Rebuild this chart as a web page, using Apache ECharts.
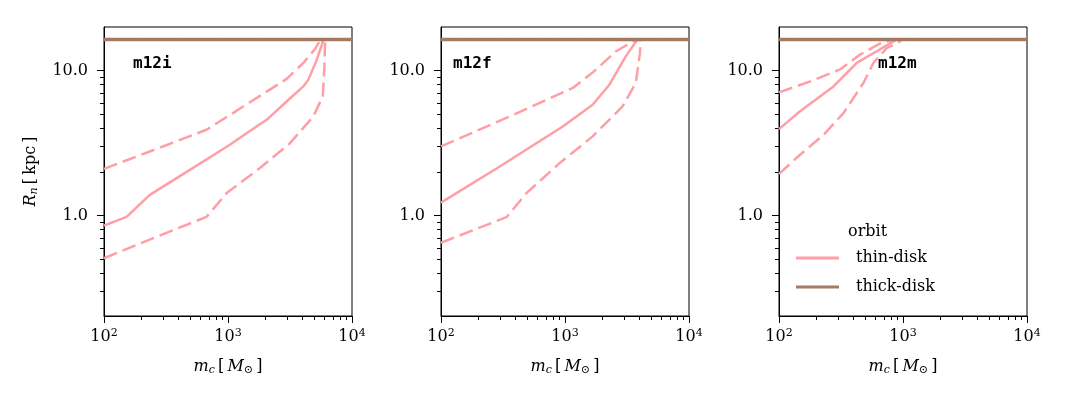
<!DOCTYPE html>
<html>
<head>
<meta charset="utf-8">
<script src="https://cdn.jsdelivr.net/npm/echarts@6/dist/echarts.min.js"></script>
<style>
  html, body { margin: 0; background: #fff; }
  #main { width: 1065px; height: 405px; }
</style>
</head>
<body>
<div id="main"></div>
<script>
// panel names
const panels = ["m12i", "m12f", "m12m"];

// thin-disk median and 16/84 bounds, [m_c, R_n]
const m12iThin = [[100, 0.853], [152, 0.98], [234, 1.39], [400, 1.85], [650, 2.4], [1035, 3.08], [1500, 3.83], [2050, 4.58], [3000, 6.17], [4050, 7.78], [4450, 8.67], [5200, 11.9], [5700, 15.0], [5900, 16.4]];
const m12iThinHi = [[100, 2.1], [234, 2.77], [400, 3.3], [671, 3.91], [1000, 4.85], [1500, 6.05], [2000, 7.07], [2970, 8.77], [4050, 11.3], [5000, 14.0], [5600, 16.4]];
const m12iThinLo = [[100, 0.508], [250, 0.7], [671, 0.98], [975, 1.43], [1810, 2.13], [3160, 3.16], [4880, 4.83], [5810, 6.64], [6000, 11.0], [6070, 16.4]];

const m12fThin = [[100, 1.23], [298, 2.18], [500, 2.89], [960, 4.12], [1670, 5.82], [2280, 8.0], [3100, 12.6], [3840, 16.4]];
const m12fThinHi = [[100, 3.0], [358, 4.83], [1155, 7.6], [1670, 9.7], [2580, 13.6], [3720, 16.3]];
const m12fThinLo = [[100, 0.65], [337, 0.975], [489, 1.43], [903, 2.3], [1670, 3.52], [2910, 5.66], [3720, 8.22], [4020, 13.2], [4070, 16.4]];

const m12mThin = [[100, 3.95], [148, 5.24], [275, 7.78], [424, 11.3], [614, 13.6], [836, 15.9], [900, 16.4]];
const m12mThinHi = [[100, 7.08], [179, 8.44], [311, 10.2], [451, 12.9], [653, 15.4], [836, 16.4]];
const m12mThinLo = [[100, 1.94], [148, 2.63], [229, 3.61], [331, 5.1], [480, 8.22], [577, 11.3], [738, 14.3], [944, 15.9], [960, 16.4]];

// thick-disk stays at the outer edge in every run
const thickDisk = [[100, 16.4], [10000, 16.4]];

const thin = [m12iThin, m12fThin, m12mThin];
const thinHi = [m12iThinHi, m12fThinHi, m12mThinHi];
const thinLo = [m12iThinLo, m12fThinLo, m12mThinLo];

// ticks
const xMajor = [100, 1000, 10000];
const xMinor = [200, 300, 400, 500, 600, 700, 800, 900, 2000, 3000, 4000, 5000, 6000, 7000, 8000, 9000];
const yMajor = [1, 10];
const yMinor = [0.3, 0.4, 0.5, 0.6, 0.7, 0.8, 0.9, 2, 3, 4, 5, 6, 7, 8, 9];

const PINK = "#ff9ea6";
const BROWN = "#a47a63";
const SERIF = "DejaVu Serif";
const lefts = [104, 441, 779];

const richMath = {
  t: { fontFamily: SERIF, fontSize: 16, color: "#000", lineHeight: 18 },
  i: { fontFamily: SERIF, fontSize: 16, fontStyle: "italic", color: "#000", lineHeight: 18 },
  s: { fontFamily: SERIF, fontSize: 11, fontStyle: "italic", color: "#000", lineHeight: 6, verticalAlign: "bottom" },
  sup: { fontFamily: SERIF, fontSize: 11, color: "#000", lineHeight: 8, verticalAlign: "top" },
};

const grid = [], xAxis = [], yAxis = [], series = [], title = [];

panels.forEach((name, i) => {
  grid.push({ left: lefts[i], top: 27, width: 248, height: 289, show: true, borderColor: "#000", borderWidth: 1 });

  xAxis.push({
    type: "log", logBase: 10, gridIndex: i, position: "bottom", min: 100, max: 10000,
    axisLine: { lineStyle: { color: "#000", width: 1 } },
    axisTick: { customValues: xMajor, length: 7, lineStyle: { color: "#000" } },
    axisLabel: {
      customValues: xMajor, margin: 12, rich: richMath,
      formatter: (v) => "{t|10}{sup|" + Math.round(Math.log10(v)) + "}",
    },
    splitLine: { show: false },
    name: "{i|m}{s|c}{t|\u2009[\u2009}{i|M}{s|\u2299}{t|\u2009]}",
    nameLocation: "middle", nameGap: 42,
    nameTextStyle: { rich: richMath },
  });
  xAxis.push({
    type: "log", logBase: 10, gridIndex: i, position: "bottom", min: 100, max: 10000,
    axisLine: { show: false },
    axisTick: { customValues: xMinor, length: 4, lineStyle: { color: "#000" } },
    axisLabel: { show: false },
    splitLine: { show: false },
  });

  yAxis.push({
    type: "log", logBase: 10, gridIndex: i, position: "left", min: 0.203, max: 20,
    axisLine: { show: true, lineStyle: { color: "#000", width: 1 } },
    axisTick: { show: true, customValues: yMajor, length: 7, lineStyle: { color: "#000" } },
    axisLabel: {
      customValues: yMajor, margin: 16,
      fontFamily: SERIF, fontSize: 16, color: "#000",
      formatter: (v) => v.toFixed(1),
    },
    splitLine: { show: false },
    name: i === 0 ? "{i|R}{s|n}{t|\u2009[\u2009kpc\u2009]}" : "",
    nameLocation: "middle", nameGap: 64, nameRotate: 90,
    nameTextStyle: { rich: richMath },
  });
  yAxis.push({
    type: "log", logBase: 10, gridIndex: i, position: "left", min: 0.203, max: 20,
    axisLine: { show: false },
    axisTick: { show: true, customValues: yMinor, length: 4, lineStyle: { color: "#000" } },
    axisLabel: { show: false },
    splitLine: { show: false },
  });

  const base = { type: "line", xAxisIndex: 2 * i, yAxisIndex: 2 * i, symbol: "none", silent: true };
  series.push({ ...base, name: "thin-disk", data: thin[i], lineStyle: { color: PINK, width: 2.5 }, itemStyle: { color: PINK } });
  series.push({ ...base, name: "thin-disk 84%", data: thinHi[i], lineStyle: { color: PINK, width: 2.5, type: [14, 6] } });
  series.push({ ...base, name: "thin-disk 16%", data: thinLo[i], lineStyle: { color: PINK, width: 2.5, type: [14, 6] } });
  series.push({ ...base, name: "thick-disk", data: thickDisk, lineStyle: { color: BROWN, width: 3.5 }, itemStyle: { color: BROWN } });
  series.push({ ...base, name: "thick-disk bounds", data: thickDisk, lineStyle: { color: BROWN, width: 2.5, type: [14, 6] } });

  const labelX = [133, 453, 878][i];
  title.push({
    text: name, left: labelX, top: 55, padding: 0,
    textStyle: { fontFamily: "DejaVu Sans Mono", fontSize: 16, fontWeight: "bold", color: "#000", lineHeight: 18 },
  });
});

title.push({
  text: "orbit", left: 848, top: 223, padding: 0,
  textStyle: { fontFamily: SERIF, fontSize: 16, fontWeight: "normal", color: "#000", lineHeight: 18 },
});

const option = {
  animation: false,
  backgroundColor: "#fff",
  title,
  grid,
  xAxis,
  yAxis,
  legend: {
    data: ["thin-disk", "thick-disk"],
    orient: "vertical",
    left: 796, top: 249, padding: 0,
    icon: "rect", itemWidth: 43, itemHeight: 3, itemGap: 11,
    textStyle: { fontFamily: SERIF, fontSize: 16, color: "#000", lineHeight: 18, padding: [0, 0, 0, 12] },
  },
  series,
};

const chart = echarts.init(document.getElementById("main"));
chart.setOption(option);
</script>
</body>
</html>
